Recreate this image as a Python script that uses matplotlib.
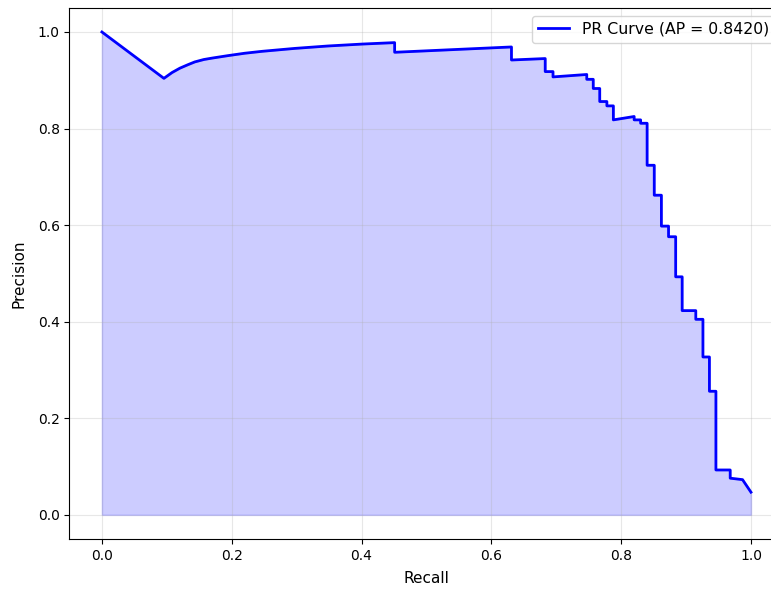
import matplotlib
matplotlib.use("Agg")
import matplotlib.pyplot as plt

# --- DATA ---
recall = [0.0, 0.0955, 0.108, 0.120, 0.132, 0.143, 0.157, 0.170, 0.194, 0.220, 0.247,
          0.297, 0.348, 0.401, 0.451,
          0.451, 0.631, 0.631, 0.683, 0.683, 0.695, 0.695, 0.747, 0.747, 0.757, 0.757,
          0.767, 0.767, 0.778, 0.778, 0.788, 0.788, 0.820, 0.820, 0.830, 0.830,
          0.840, 0.840, 0.851, 0.851, 0.862, 0.862, 0.873, 0.873, 0.884, 0.884,
          0.894, 0.894, 0.915, 0.915, 0.926, 0.926, 0.936, 0.936, 0.946, 0.946,
          0.968, 0.968, 0.987, 1.0]
precision = [1.0, 0.904, 0.916, 0.925, 0.932, 0.938, 0.943, 0.946, 0.951, 0.956, 0.960,
             0.966, 0.971, 0.975, 0.978,
             0.958, 0.969, 0.942, 0.945, 0.918, 0.918, 0.907, 0.912, 0.902, 0.902, 0.883,
             0.883, 0.856, 0.856, 0.847, 0.847, 0.818, 0.825, 0.818, 0.818, 0.811,
             0.811, 0.724, 0.724, 0.662, 0.662, 0.598, 0.598, 0.576, 0.576, 0.493,
             0.493, 0.423, 0.423, 0.405, 0.405, 0.327, 0.327, 0.256, 0.256, 0.093,
             0.093, 0.076, 0.073, 0.047]
ap_score = 0.8420

# --- PLOT ---
fig = plt.figure(figsize=(7.71, 5.9), dpi=100)
ax = fig.add_axes([0.0901, 0.0864, 0.926, 0.9003])
ax.plot(recall, precision, color='blue', linewidth=2, label=f'PR Curve (AP = {ap_score:.4f})')
ax.fill_between(recall, precision, alpha=0.2, color='blue')
ax.set_xlabel('Recall', fontsize=11, labelpad=6)
ax.set_ylabel('Precision', fontsize=11, labelpad=8)
ax.legend(loc='upper right', fontsize=11.3)
ax.grid(True, alpha=0.3)

fig.savefig('out.png', dpi=100)
